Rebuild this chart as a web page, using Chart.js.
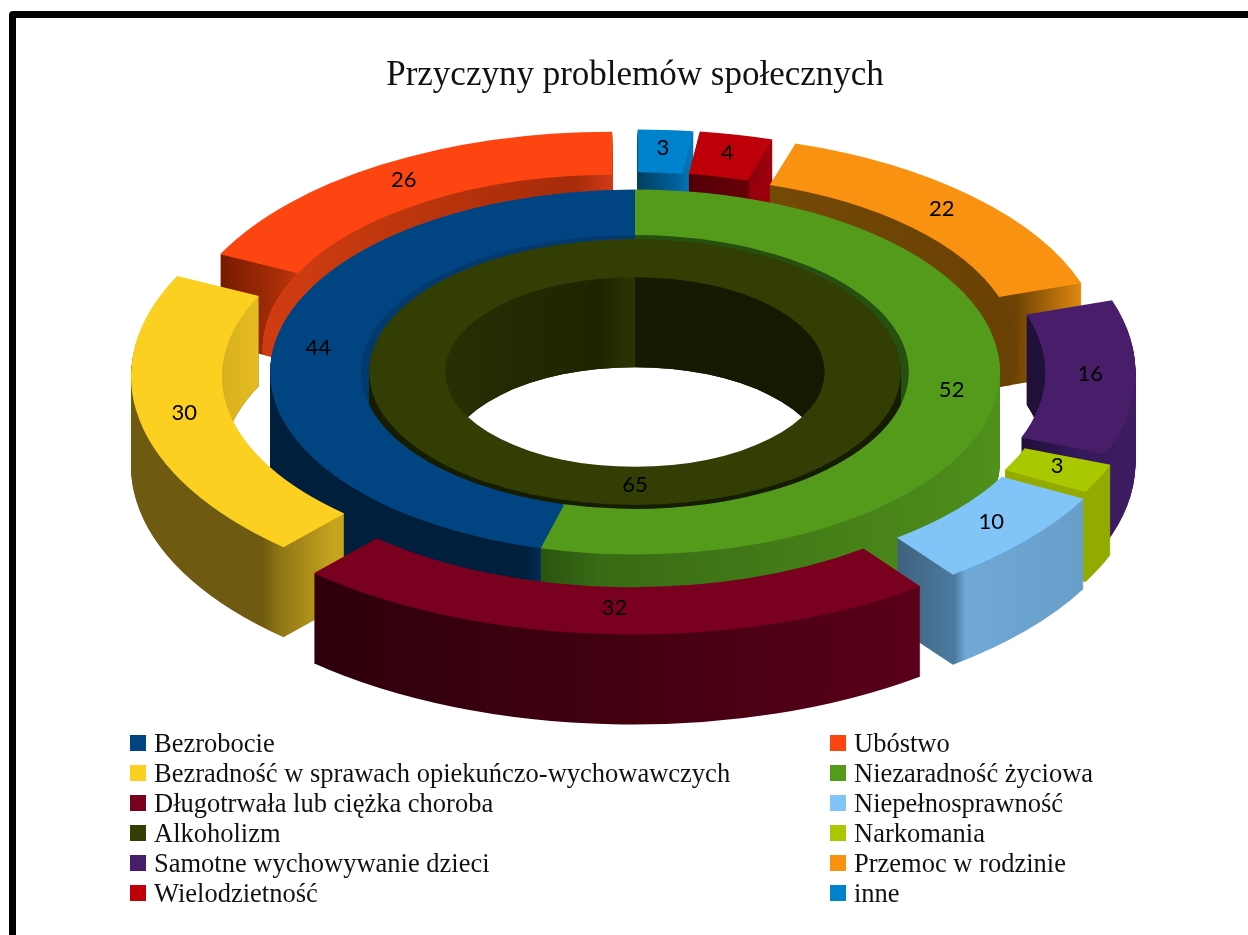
<!DOCTYPE html>
<html>
<head>
<meta charset="utf-8">
<title>Przyczyny problemów społecznych</title>
<script src="https://cdn.jsdelivr.net/npm/chart.js@4"></script>
<style>
  html, body { margin: 0; width: 1248px; height: 935px; overflow: hidden; background: #fff; }
  #frame { position: absolute; left: 9px; top: 11px; width: 1400px; height: 1100px;
           border: 7px solid #000; border-radius: 4px; }
  canvas { position: absolute; left: 0; top: 0; }
  #legend { position: absolute; left: 130px; top: 728px; display: grid;
            grid-template-columns: 700px auto; grid-auto-rows: 30px;
            font: 26.5px "Liberation Serif", serif; color: #111; }
  #legend div { display: flex; align-items: center; white-space: nowrap; }
  #legend i { width: 16px; height: 16px; margin-right: 8px; flex: none; }
</style>
</head>
<body>
<div id="frame"></div>
<canvas id="chart" width="1248" height="935"></canvas>
<div id="legend"></div>
<script>
const chartTitle = 'Przyczyny problemów społecznych';

// legend order
const legendCats = ['Bezrobocie', 'Ubóstwo', 'Bezradność w sprawach opiekuńczo-wychowawczych', 'Niezaradność życiowa',
  'Długotrwała lub ciężka choroba', 'Niepełnosprawność', 'Alkoholizm', 'Narkomania',
  'Samotne wychowywanie dzieci', 'Przemoc w rodzinie', 'Wielodzietność', 'inne'];
const legendColors = ['#004482', '#fd4511', '#fbd021', '#549b1c', '#7a0020', '#80c4f8',
  '#323e03', '#a9c800', '#481e6a', '#f99210', '#be000a', '#0082cd'];

// rings, clockwise from 12 o'clock
const innerCats = ['Alkoholizm'];
const innerValues = [65];
const middleCats = ['Niezaradność życiowa', 'Bezrobocie'];
const middleValues = [52, 44];
const outerCats = ['inne', 'Wielodzietność', 'Przemoc w rodzinie', 'Samotne wychowywanie dzieci', 'Narkomania',
  'Niepełnosprawność', 'Długotrwała lub ciężka choroba', 'Bezradność w sprawach opiekuńczo-wychowawczych', 'Ubóstwo'];
const outerValues = [3, 4, 22, 16, 3, 10, 32, 30, 26];

// side wall shading: [screen x, colour] stops, "out" = outer wall and end caps, "in" = wall facing the centre
const wallShades = {
  'Bezrobocie': { out: [[270, '#001f3d'], [525, '#001f3d'], [540, '#012c55']], in: [[270, '#033a6e'], [640, '#033a6e']] },
  'Niezaradność życiowa': { out: [[540, '#2a5410'], [600, '#386b14'], [950, '#4c8a1a'], [1000, '#4f921b']], in: [[640, '#26500f'], [910, '#26500f']] },
  'Alkoholizm': { out: [[360, '#161c00'], [910, '#161c00']], in: [[445, '#282f03'], [600, '#1e2400'], [625, '#2a3102'], [635, '#2a3102'], [635, '#151a01'], [825, '#141a02']] },
  'inne': { out: [[638, '#01426a'], [693, '#0478b8']], in: [[638, '#01405f'], [675, '#01609a'], [693, '#0478b8']] },
  'Wielodzietność': { out: [[745, '#8a000c'], [775, '#a0000e']], in: [[690, '#520006'], [748, '#680008'], [750, '#94000c'], [775, '#a0000e']] },
  'Przemoc w rodzinie': { out: [[1015, '#6c4304'], [1090, '#f09010']], in: [[770, '#754a06'], [1030, '#684003']] },
  'Samotne wychowywanie dzieci': { out: [[1030, '#22103c'], [1075, '#35195a'], [1135, '#3f1c62']], in: [[1025, '#21103a'], [1080, '#21103a']] },
  'Narkomania': { out: [[1080, '#93ab00'], [1110, '#93ab00']], in: [[1010, '#7f9400'], [1090, '#7f9400']] },
  'Niepełnosprawność': { out: [[900, '#3e627e'], [955, '#4d7ba0'], [965, '#6fa9d6'], [1080, '#689fca']], in: [[900, '#3e627e'], [960, '#4d7ba0']] },
  'Długotrwała lub ciężka choroba': { out: [[317, '#2e000c'], [600, '#40000f'], [920, '#5a001a']], in: [[317, '#2e000c'], [920, '#5a001a']] },
  'Bezradność w sprawach opiekuńczo-wychowawczych': { out: [[135, '#6e5a10'], [262, '#6e5a10'], [280, '#8f7614'], [335, '#c8a51e']], in: [[220, '#d8b020'], [265, '#e6bd20']] },
  'Ubóstwo': { out: [[212, '#6e1800'], [285, '#ad3008'], [300, '#c23a10']], in: [[285, '#d03c12'], [400, '#bd360d'], [575, '#a62b09'], [612, '#d03a18']] }
};

const colorOf = cat => legendColors[legendCats.indexOf(cat)];

// Chart.js puts the first dataset on the outside
const OUTER = 0, MIDDLE = 1, INNER = 2;
const ringCats = [outerCats, middleCats, innerCats];

const centerY = 372, tilt = 0.5, depth = 90, explode = 45, innerGap = 8;

// outer segments sit closer to or further from the viewer
const scaleOf = (ring, mid) => ring === OUTER ? 1 + 0.05 * Math.sin(mid) : 1;
const rearShift = (ring, mid) => ring === OUTER && Math.sin(mid) < 0 ? 5 * Math.sin(mid) : 0;

function midOf(arc) { return (arc.startAngle + arc.endAngle) / 2; }

function place(ctx, arc, ring, lift) {
  const mid = midOf(arc), s = scaleOf(ring, mid), ex = ring === OUTER ? explode : 0;
  ctx.translate(arc.x, centerY + rearShift(ring, mid) + lift);
  ctx.scale(s, s * tilt);
  ctx.translate(Math.cos(mid) * ex - arc.x, Math.sin(mid) * ex - arc.y);
}

function shade(ctx, arc, ring, stops) {
  const mid = midOf(arc), s = scaleOf(ring, mid), ex = ring === OUTER ? explode : 0;
  const toUser = sx => (sx - arc.x) / s - Math.cos(mid) * ex + arc.x;
  const x0 = stops[0][0], x1 = stops[stops.length - 1][0];
  const g = ctx.createLinearGradient(toUser(x0), 0, toUser(x1), 0);
  stops.forEach(st => g.addColorStop((st[0] - x0) / (x1 - x0), st[1]));
  return g;
}

function ghost(arc, fill, shrink) {
  const g = Object.create(arc);
  g.options = Object.assign({}, arc.options, { backgroundColor: fill, borderWidth: 0 });
  g.outerRadius = arc.outerRadius - shrink;
  return g;
}

function clipToRadius(ctx, arc, ring, radius) {
  ctx.save();
  place(ctx, arc, ring, 0);
  ctx.beginPath();
  ctx.arc(arc.x, arc.y, radius, 0, Math.PI * 2);
  ctx.restore();
  ctx.clip();
}

function extrude(ctx, arc, ring, piece) {
  for (let d = depth; d >= 1; d--) {
    ctx.save();
    place(ctx, arc, ring, d);
    piece.draw(ctx);
    ctx.restore();
  }
}

function drawWalls(ctx, arc, cat, ring) {
  const shrink = ring === INNER ? innerGap : 0;
  ctx.save();
  // the innermost ring sits in the opening of the middle one
  if (ring === INNER) clipToRadius(ctx, arc, ring, arc.outerRadius);
  extrude(ctx, arc, ring, ghost(arc, shade(ctx, arc, ring, wallShades[cat].out), shrink));
  // the part seen through the opening of the ring
  clipToRadius(ctx, arc, ring, arc.innerRadius);
  extrude(ctx, arc, ring, ghost(arc, shade(ctx, arc, ring, wallShades[cat].in), shrink));
  ctx.restore();
}

function drawTop(ctx, arc, cat, ring) {
  ctx.save();
  place(ctx, arc, ring, 0);
  ghost(arc, colorOf(cat), ring === INNER ? innerGap : 0).draw(ctx);
  ctx.restore();
}

const ring3d = {
  id: 'ring3d',
  beforeDatasetsDraw(chart) {
    const ctx = chart.ctx;
    const parts = ring => chart.getDatasetMeta(ring).data.map((arc, i) => ({ arc, ring, cat: ringCats[ring][i] }));
    const depthKey = p => Math.sin(midOf(p.arc));
    const outer = parts(OUTER).sort((a, b) => depthKey(a) - depthKey(b));
    const full = p => { drawWalls(ctx, p.arc, p.cat, p.ring); drawTop(ctx, p.arc, p.cat, p.ring); };

    outer.filter(p => depthKey(p) <= 0.1).forEach(full);
    // green wall is nearer the viewer at the seam, so it goes on after the blue one
    parts(MIDDLE).reverse().forEach(p => drawWalls(ctx, p.arc, p.cat, p.ring));
    parts(INNER).forEach(p => drawWalls(ctx, p.arc, p.cat, p.ring));
    parts(MIDDLE).forEach(p => drawTop(ctx, p.arc, p.cat, p.ring));
    parts(INNER).forEach(p => drawTop(ctx, p.arc, p.cat, p.ring));
    outer.filter(p => depthKey(p) > 0.1).forEach(full);
    return false;
  },
  afterDraw(chart) {
    const ctx = chart.ctx;
    ctx.save();
    ctx.font = '22px Lato, "Open Sans", sans-serif';
    ctx.fillStyle = '#000';
    ctx.textAlign = 'center';
    ctx.textBaseline = 'middle';
    chart.data.datasets.forEach((ds, ring) => {
      chart.getDatasetMeta(ring).data.forEach((arc, i) => {
        const mid = midOf(arc), s = scaleOf(ring, mid);
        const r = (arc.innerRadius + arc.outerRadius) / 2 + (ring === OUTER ? explode : 0);
        const y = centerY + rearShift(ring, mid) + Math.sin(mid) * r * s * tilt - 3;
        ctx.fillText(ds.data[i], arc.x + Math.cos(mid) * r * s, y);
      });
    });
    ctx.restore();
  }
};

new Chart(document.getElementById('chart'), {
  type: 'doughnut',
  data: {
    datasets: [
      { data: outerValues, weight: 90, backgroundColor: outerCats.map(colorOf) },
      { data: middleValues, weight: 91, backgroundColor: middleCats.map(colorOf) },
      { data: innerValues, weight: 84, backgroundColor: innerCats.map(colorOf) }
    ]
  },
  options: {
    responsive: false,
    animation: false,
    events: [],
    radius: 455,
    cutout: '41.7%',
    borderWidth: 0,
    layout: { padding: { left: 22 } },
    plugins: {
      legend: { display: false },
      tooltip: { enabled: false },
      title: {
        display: true,
        text: chartTitle,
        color: '#111',
        font: { family: '"Liberation Serif", serif', size: 35, weight: 'normal' },
        padding: { top: 55, bottom: 10 }
      }
    }
  },
  plugins: [ring3d]
});

const legendBox = document.getElementById('legend');
legendCats.forEach((cat, i) => {
  const row = document.createElement('div');
  const box = document.createElement('i');
  box.style.background = legendColors[i];
  row.appendChild(box);
  row.appendChild(document.createTextNode(cat));
  legendBox.appendChild(row);
});
</script>
</body>
</html>
